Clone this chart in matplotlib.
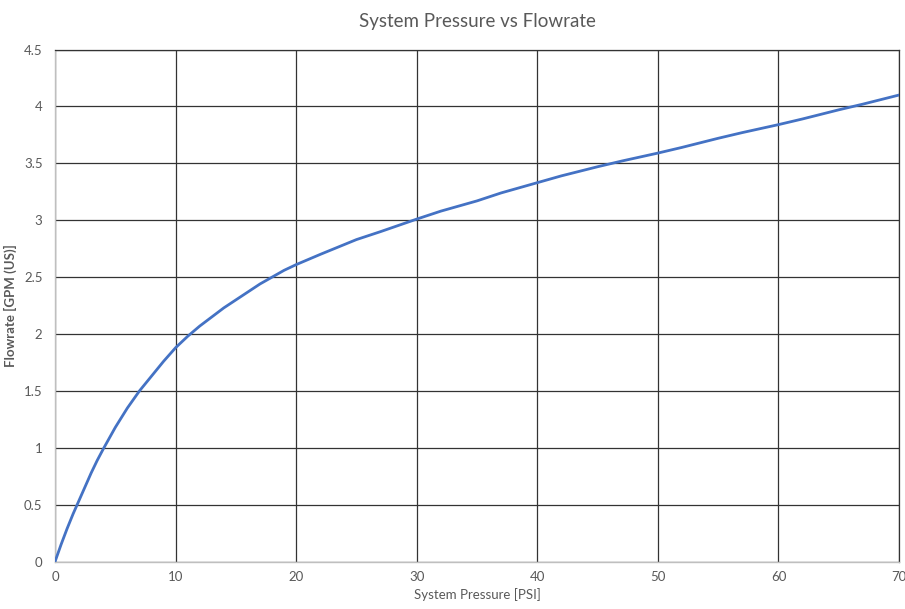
import matplotlib
matplotlib.use("Agg")
import matplotlib.pyplot as plt

pressure = [0, 0.5, 1, 1.5, 2, 2.5, 3, 3.5, 4, 5, 6, 7, 8, 9, 10, 11, 12, 13, 14, 15, 16, 17, 18, 19,
            20, 22, 25, 27, 30, 32, 35, 37, 40, 42, 45, 47, 50, 52, 55, 57, 60, 62, 65, 67, 70]
flowrate = [0, 0.15, 0.29, 0.42, 0.54, 0.66, 0.78, 0.89, 0.99, 1.18, 1.35, 1.50, 1.63, 1.76, 1.88,
            1.98, 2.07, 2.15, 2.23, 2.30, 2.37, 2.44, 2.50, 2.56,
            2.61, 2.70, 2.83, 2.90, 3.01, 3.08, 3.17, 3.24, 3.33, 3.39, 3.47, 3.52, 3.59, 3.64,
            3.72, 3.77, 3.84, 3.89, 3.97, 4.02, 4.10]
x_ticks = [0, 10, 20, 30, 40, 50, 60, 70]
y_ticks = [0, 0.5, 1, 1.5, 2, 2.5, 3, 3.5, 4, 4.5]
y_tick_labels = ["0", "0.5", "1", "1.5", "2", "2.5", "3", "3.5", "4", "4.5"]

plt.rcParams['font.family'] = ['Lato', 'DejaVu Sans']
txt = '#595959'

fig = plt.figure(figsize=(9.05, 6.09), dpi=100)
ax = fig.add_axes([0.0608, 0.0777, 0.9326, 0.841])

ax.plot(pressure, flowrate, color='#4472C4', linewidth=2.0, zorder=3,
        solid_joinstyle='round')

ax.set_xlim(0, 70)
ax.set_ylim(0, 4.5)
ax.set_xticks(x_ticks)
ax.set_yticks(y_ticks)
ax.set_yticklabels(y_tick_labels)
ax.grid(True, color='#333333', linewidth=0.9, zorder=1)
ax.set_axisbelow(True)

for s in ['left', 'bottom']:
    ax.spines[s].set_color('#BFBFBF')
    ax.spines[s].set_linewidth(1.0)
for s in ['top', 'right']:
    ax.spines[s].set_color('#333333')
    ax.spines[s].set_linewidth(0.9)

ax.tick_params(axis='both', length=0, labelsize=9.5, labelcolor=txt)
ax.tick_params(axis='x', pad=7)
ax.tick_params(axis='y', pad=9)

ax.set_title('System Pressure vs Flowrate', fontsize=13.5, color=txt, pad=16)
ax.set_xlabel('System Pressure [PSI]', fontsize=9.5, color=txt, labelpad=3)
ax.set_ylabel('Flowrate [GPM (US)]', fontsize=9.5, color=txt, fontweight='bold', labelpad=5)

fig.savefig('out.png', dpi=100, facecolor='white')
